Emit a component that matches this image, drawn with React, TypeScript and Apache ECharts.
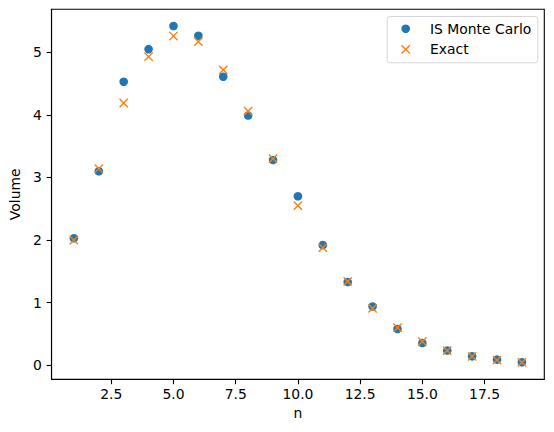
import { useEffect, useRef } from 'react';
import * as echarts from 'echarts';

// dimension n = 1..19
const dims = [1, 2, 3, 4, 5, 6, 7, 8, 9, 10, 11, 12, 13, 14, 15, 16, 17, 18, 19];
const monteCarlo = [2.03, 3.1, 4.53, 5.05, 5.42, 5.265, 4.61, 3.99, 3.28, 2.7, 1.92, 1.33, 0.94, 0.58, 0.355, 0.235, 0.143, 0.09, 0.048];
const exact = [2.0, 3.14, 4.19, 4.93, 5.26, 5.17, 4.72, 4.06, 3.3, 2.55, 1.88, 1.34, 0.91, 0.6, 0.38, 0.235, 0.141, 0.082, 0.047];
const xTicks = [2.5, 5, 7.5, 10, 12.5, 15, 17.5];
const yTicks = [0, 1, 2, 3, 4, 5];

const BLUE = '#1f77b4';
const ORANGE = '#ff7f0e';
const FONT = 'DejaVu Sans';
const FS = 13.9;

function App() {
  const divEL = useRef<HTMLDivElement>(null);

  useEffect(() => {
    const instance = echarts.init(divEL.current as any, null, { renderer: 'svg' });

    const option: any = {
      animation: false,
      textStyle: { fontFamily: FONT },
      grid: {
        left: 48.5,
        top: 9.3,
        right: 9.7,
        bottom: 52.7,
        show: true,
        borderColor: '#000',
        borderWidth: 1.1,
        backgroundColor: 'transparent',
      },
      xAxis: {
        type: 'value',
        min: 0.1,
        max: 19.9,
        name: 'n',
        nameLocation: 'middle',
        nameGap: 27,
        nameTextStyle: { fontFamily: FONT, fontSize: FS, color: '#000' },
        axisLine: { show: true, onZero: false, lineStyle: { color: '#000', width: 1.1 } },
        axisTick: { show: true, length: 4.9, customValues: xTicks, lineStyle: { color: '#000', width: 1.1 } },
        axisLabel: {
          customValues: xTicks,
          margin: 8,
          fontFamily: FONT,
          fontSize: FS,
          color: '#000',
          formatter: (v: number) => v.toFixed(1),
        },
        splitLine: { show: false },
      },
      yAxis: {
        type: 'value',
        min: -0.224,
        max: 5.687,
        name: 'Volume',
        nameLocation: 'middle',
        nameGap: 26,
        nameTextStyle: { fontFamily: FONT, fontSize: FS, color: '#000' },
        axisLine: { show: true, onZero: false, lineStyle: { color: '#000', width: 1.1 } },
        axisTick: { show: true, length: 4.9, customValues: yTicks, lineStyle: { color: '#000', width: 1.1 } },
        axisLabel: {
          customValues: yTicks,
          margin: 9.8,
          fontFamily: FONT,
          fontSize: FS,
          color: '#000',
          formatter: (v: number) => String(Math.round(v)),
        },
        splitLine: { show: false },
      },
      series: [
        {
          name: 'IS Monte Carlo',
          type: 'scatter',
          symbol: 'circle',
          symbolSize: 8.6,
          itemStyle: { color: BLUE, opacity: 1 },
          data: dims.map((n, i) => [n, monteCarlo[i]]),
        },
        {
          name: 'Exact',
          type: 'scatter',
          symbol: 'path://M0,0L10,10M10,0L0,10',
          symbolSize: 8.3,
          itemStyle: { color: 'none', borderColor: ORANGE, borderWidth: 1.4, opacity: 1 },
          data: dims.map((n, i) => [n, exact[i]]),
        },
      ],
      graphic: [
        {
          type: 'rect',
          left: 386.7,
          top: 16,
          shape: { width: 150.6, height: 46.3, r: 3 },
          style: { fill: '#fff', stroke: '#d6d6d6', lineWidth: 1 },
          z: 100,
        },
        {
          type: 'circle',
          shape: { cx: 405.7, cy: 28.7, r: 4.3 },
          style: { fill: BLUE },
          z: 101,
        },
        {
          type: 'line',
          shape: { x1: 401.5, y1: 45.2, x2: 409.9, y2: 53.6 },
          style: { stroke: ORANGE, lineWidth: 1.4 },
          z: 101,
        },
        {
          type: 'line',
          shape: { x1: 409.9, y1: 45.2, x2: 401.5, y2: 53.6 },
          style: { stroke: ORANGE, lineWidth: 1.4 },
          z: 101,
        },
        {
          type: 'text',
          x: 430,
          y: 28.7,
          style: { text: 'IS Monte Carlo', fontFamily: FONT, fontSize: FS, fill: '#000', verticalAlign: 'middle' },
          z: 101,
        },
        {
          type: 'text',
          x: 430,
          y: 49.4,
          style: { text: 'Exact', fontFamily: FONT, fontSize: FS, fill: '#000', verticalAlign: 'middle' },
          z: 101,
        },
      ],
    };

    instance.setOption(option);
    return () => {
      instance.dispose();
    };
  }, []);

  return <div ref={divEL} style={{ position: 'fixed', left: 0, top: 0, width: '554px', height: '432px', background: '#fff' }}></div>;
}

export default App;
